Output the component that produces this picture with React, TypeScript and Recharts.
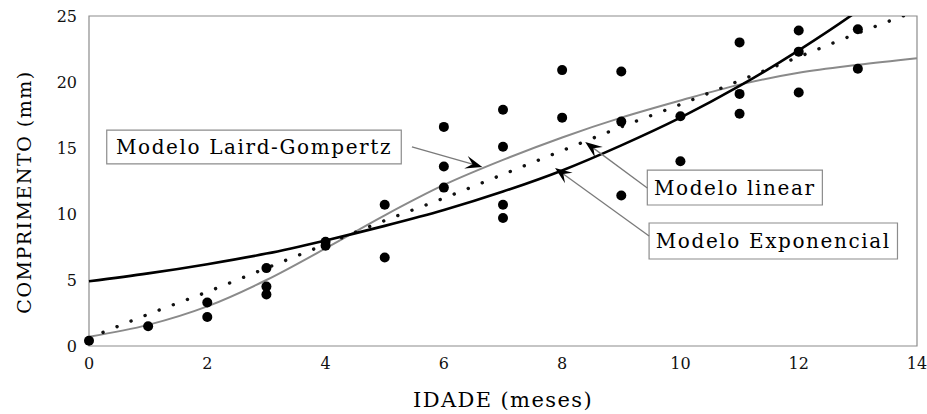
import { ComposedChart, Line, Scatter, XAxis, YAxis, ReferenceArea, ReferenceLine } from 'recharts';

// model curves at whole months
const ages = [0, 1, 2, 3, 4, 5, 6, 7, 8, 9, 10, 11, 12, 13, 14];
const expModel = [4.9, 5.5, 6.2, 7.0, 8.0, 9.1, 10.3, 11.7, 13.3, 15.2, 17.3, 19.7, 22.4, 25.4, 28.9];
const linearModel = [0.6, 2.4, 4.1, 5.9, 7.7, 9.5, 11.2, 13.0, 14.8, 16.6, 18.3, 20.1, 21.9, 23.7, 25.4];
const gompertzModel = [0.7, 1.6, 3.0, 5.0, 7.4, 9.9, 12.2, 14.1, 15.8, 17.3, 18.6, 19.8, 20.7, 21.3, 21.8];

// observed individuals
const obsAge = [0, 1, 2, 2, 3, 3, 3, 4, 4, 5, 5, 6, 6, 6, 7, 7, 7, 7, 8, 8, 9, 9, 9, 10, 10, 11, 11, 11, 12, 12, 12, 13, 13];
const obsLength = [0.4, 1.5, 3.3, 2.2, 5.9, 4.5, 3.9, 7.9, 7.6, 10.7, 6.7, 16.6, 13.6, 12.0, 17.9, 15.1, 10.7, 9.7, 20.9, 17.3, 20.8, 17.0, 11.4, 17.4, 14.0, 23.0, 19.1, 17.6, 23.9, 22.3, 19.2, 24.0, 21.0];

const xTicks = [0, 2, 4, 6, 8, 10, 12, 14];
const yTicks = [0, 5, 10, 15, 20, 25];

const noteTexts = ['Modelo Laird-Gompertz', 'Modelo linear', 'Modelo Exponencial'];

const curveData = ages.map((age, i) => ({
  age,
  exp: expModel[i],
  linear: linearModel[i],
  gompertz: gompertzModel[i],
}));
const obsData = obsAge.map((age, i) => ({ age, length: obsLength[i] }));

// boxes and pointers, in data units
const noteLayout = [
  { box: [0.3, 5.28, 13.79, 16.36], from: [5.46, 15.08], to: [6.65, 13.56] },
  { box: [9.44, 12.4, 10.68, 13.33], from: [9.44, 11.97], to: [8.39, 15.45] },
  { box: [9.47, 13.67, 6.59, 9.32], from: [9.47, 8.33], to: [7.88, 13.48] },
];

const font = "'DejaVu Serif', serif";

const Arrow = (p: any) => {
  const { x1, y1, x2, y2 } = p;
  const a = Math.atan2(y2 - y1, x2 - x1);
  const c = Math.cos(a);
  const s = Math.sin(a);
  const len = 17;
  const w = 6.5;
  const bx = x2 - len * c;
  const by = y2 - len * s;
  const nx = x2 - len * 0.6 * c;
  const ny = y2 - len * 0.6 * s;
  const pts = [
    [x2, y2],
    [bx - w * s, by + w * c],
    [nx, ny],
    [bx + w * s, by - w * c],
  ]
    .map((q) => q.join(','))
    .join(' ');
  return (
    <g>
      <line x1={x1} y1={y1} x2={nx} y2={ny} stroke="#7a7a7a" strokeWidth={1.3} />
      <polygon points={pts} fill="#000" />
    </g>
  );
};

const noteLabel = (text: string) => (props: any) => {
  const { x, y, width, height } = props.viewBox;
  return (
    <text
      x={x + width / 2}
      y={y + height / 2}
      dy="0.36em"
      textAnchor="middle"
      fontFamily={font}
      fontSize={20}
      letterSpacing={1.6}
      fill="#000"
    >
      {text}
    </text>
  );
};

const Dot = (p: any) => <circle cx={p.cx} cy={p.cy} r={5} fill="#000" />;

export default function App() {
  return (
    <div style={{ position: 'absolute', left: 0, top: 0, background: '#fff' }}>
      <ComposedChart width={927} height={414} data={curveData} margin={{ top: 16, right: 10, left: 0, bottom: 0 }}>
        <XAxis
          type="number"
          dataKey="age"
          domain={[0, 14]}
          ticks={xTicks}
          axisLine={false}
          tickLine={false}
          tickMargin={6}
          height={68}
          tick={{ fill: '#111', fontSize: 16, fontFamily: font }}
          label={{
            content: () => (
              <text x={503} y={407} textAnchor="middle" fontFamily={font} fontSize={21} letterSpacing={1.4} fill="#000">
                IDADE (meses)
              </text>
            ),
          }}
        />
        <YAxis
          type="number"
          domain={[0, 25]}
          ticks={yTicks}
          allowDataOverflow
          axisLine={false}
          tickLine={false}
          tickMargin={6}
          width={89}
          tick={{ fill: '#111', fontSize: 16, fontFamily: font }}
          label={{
            content: () => (
              <text
                x={0}
                y={0}
                transform="translate(31 192) rotate(-90)"
                textAnchor="middle"
                fontFamily={font}
                fontSize={19}
                letterSpacing={1.5}
                fill="#000"
              >
                COMPRIMENTO (mm)
              </text>
            ),
          }}
        />
        <ReferenceArea x1={0} x2={14} y1={0} y2={25} fill="none" stroke="#8c8c8c" strokeWidth={1.2} />
        <Line
          type="monotone"
          dataKey="gompertz"
          stroke="#8a8a8a"
          strokeWidth={2}
          dot={false}
          isAnimationActive={false}
        />
        <Line
          type="monotone"
          dataKey="linear"
          stroke="#111"
          strokeWidth={3.4}
          strokeDasharray="0.1 15"
          strokeLinecap="round"
          dot={false}
          isAnimationActive={false}
        />
        <Line
          type="monotone"
          dataKey="exp"
          stroke="#000"
          strokeWidth={2.6}
          dot={false}
          isAnimationActive={false}
        />
        <Scatter data={obsData} dataKey="length" shape={Dot} isAnimationActive={false} />
        {noteLayout.map((n, i) => (
          <ReferenceArea
            key={'box' + i}
            x1={n.box[0]}
            x2={n.box[1]}
            y1={n.box[2]}
            y2={n.box[3]}
            fill="#fff"
            fillOpacity={1}
            stroke="#8c8c8c"
            strokeWidth={1.2}
            label={noteLabel(noteTexts[i])}
          />
        ))}
        {noteLayout.map((n, i) => (
          <ReferenceLine
            key={'arrow' + i}
            segment={[
              { x: n.from[0], y: n.from[1] },
              { x: n.to[0], y: n.to[1] },
            ]}
            shape={Arrow}
          />
        ))}
      </ComposedChart>
    </div>
  );
}
